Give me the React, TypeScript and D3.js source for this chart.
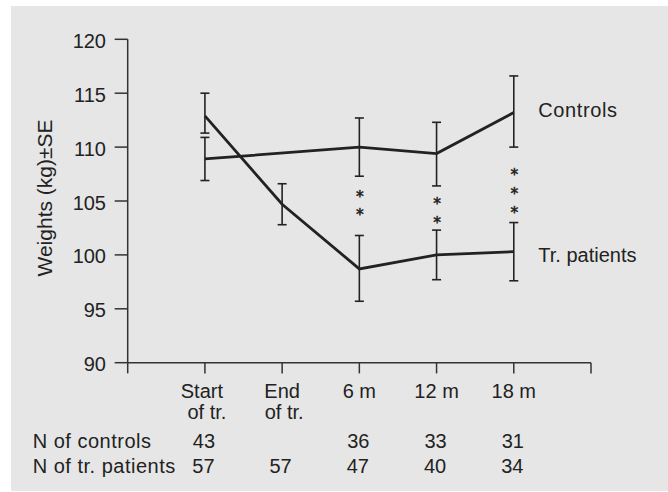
import React from "react";
import * as d3 from "d3";

const categories: string[][] = [["Start", "of tr."], ["End", "of tr."], ["6 m"], ["12 m"], ["18 m"]];
const controlsMean: (number | null)[] = [108.9, null, 110.0, 109.4, 113.2];
const controlsHigh: (number | null)[] = [110.9, null, 112.7, 112.3, 116.6];
const controlsLow: (number | null)[] = [106.9, null, 107.3, 106.4, 110.0];
const patientsMean: number[] = [112.9, 104.7, 98.7, 100.0, 100.3];
const patientsHigh: number[] = [115.0, 106.6, 101.8, 102.3, 103.0];
const patientsLow: number[] = [111.3, 102.8, 95.7, 97.7, 97.6];
const significance: string[] = ["", "", "**", "**", "***"];
const significanceAt: (number | null)[] = [null, null, 104.9, 104.2, 106.0];
const rowLabels: string[] = ["N of controls", "N of tr. patients"];
const nControls: string[] = ["43", "", "36", "33", "31"];
const nPatients: string[] = ["57", "57", "47", "40", "34"];
const yTicks: number[] = [90, 95, 100, 105, 110, 115, 120];
const seriesNames: string[] = ["Controls", "Tr. patients"];
const yLabel = "Weights (kg)\u00B1SE";

const W = 668;
const H = 492;
const FONT = "'Liberation Sans', Arial, Helvetica, sans-serif";
const INK = "#222";

export default function App() {
  const y = d3.scaleLinear().domain([90, 120]).range([362.7, 39.3]);
  const x = d3.scaleLinear().domain([0, 6]).range([127.7, 591]);
  const axisY = y(90);
  const axisX = x(0);

  type P = { i: number; v: number };
  const line = d3
    .line<P>()
    .x((d) => x(d.i + 1))
    .y((d) => y(d.v));

  const ctrlPts: P[] = controlsMean
    .map((v, i) => ({ i, v: v as number }))
    .filter((d, i) => controlsMean[i] !== null);
  const patPts: P[] = patientsMean.map((v, i) => ({ i, v }));

  const bars: { i: number; lo: number; hi: number }[] = [];
  controlsMean.forEach((m, i) => {
    if (m !== null) bars.push({ i, lo: controlsLow[i] as number, hi: controlsHigh[i] as number });
  });
  patientsMean.forEach((m, i) => {
    bars.push({ i, lo: patientsLow[i], hi: patientsHigh[i] });
  });

  const cap = 4.5;
  const xTickVals = d3.range(0, 7);

  return (
    <svg
      width={W}
      height={H}
      style={{ position: "absolute", left: 0, top: 0 }}
      fontFamily={FONT}
    >
      <rect x={0} y={0} width={W} height={H} fill="#fff" />
      <rect x={11} y={6} width={W - 11} height={485} fill="#e6e6e6" />

      {/* Y axis */}
      <line x1={axisX} x2={axisX} y1={y(120)} y2={axisY} stroke="#333" strokeWidth={1.5} />
      {yTicks.map((t) => (
        <g key={t}>
          <line x1={axisX - 13} x2={axisX} y1={y(t)} y2={y(t)} stroke="#333" strokeWidth={1.5} />
          <text x={106} y={y(t) + 8.5} textAnchor="end" fontSize={20} fill={INK}>
            {t}
          </text>
        </g>
      ))}
      <text
        transform={`translate(52,198) rotate(-90)`}
        textAnchor="middle"
        fontSize={21}
        fill={INK}
      >
        {yLabel}
      </text>

      {/* X axis */}
      <line x1={axisX} x2={x(6)} y1={axisY} y2={axisY} stroke="#333" strokeWidth={1.5} />
      {xTickVals.map((t) => (
        <line key={t} x1={x(t)} x2={x(t)} y1={axisY} y2={axisY + 10.7} stroke="#333" strokeWidth={1.5} />
      ))}
      {categories.map((lines, i) => (
        <text key={i} textAnchor="middle" fontSize={20} fill={INK}>
          {lines.map((l, j) => (
            <tspan key={j} x={x(i + 1) + (j === 0 ? (lines.length > 1 && i === 0 ? -3 : 0) : 2)} y={axisY + 35.5 + j * 21}>
              {l}
            </tspan>
          ))}
        </text>
      ))}

      {/* Table */}
      {rowLabels.map((r, k) => (
        <text key={r} x={32.7} y={448.3 + k * 24.4} fontSize={20} fill={INK} letterSpacing={0.5}>
          {r}
        </text>
      ))}
      {nControls.map((n, i) => (
        <text key={"c" + i} x={x(i + 1) - 1} y={448.3} textAnchor="middle" fontSize={20} fill={INK}>
          {n}
        </text>
      ))}
      {nPatients.map((n, i) => (
        <text key={"p" + i} x={x(i + 1) - 1.5} y={472.7} textAnchor="middle" fontSize={20} fill={INK}>
          {n}
        </text>
      ))}

      {/* Error bars */}
      {bars.map((b, k) => {
        const cx = x(b.i + 1);
        return (
          <g key={k} stroke={INK} strokeWidth={1.6}>
            <line x1={cx} x2={cx} y1={y(b.lo)} y2={y(b.hi)} />
            <line x1={cx - cap} x2={cx + cap} y1={y(b.lo)} y2={y(b.lo)} />
            <line x1={cx - cap} x2={cx + cap} y1={y(b.hi)} y2={y(b.hi)} />
          </g>
        );
      })}

      {/* Lines */}
      <path d={line(ctrlPts) || ""} fill="none" stroke={INK} strokeWidth={2.8} strokeLinejoin="miter" />
      <path d={line(patPts) || ""} fill="none" stroke={INK} strokeWidth={2.8} strokeLinejoin="miter" />

      {/* Significance stars */}
      {significance.map((s, i) => {
        const at = significanceAt[i];
        if (!s || at === null) return null;
        const mid = y(at);
        const n = s.length;
        const gap = 18.6;
        return (
          <g key={"s" + i}>
            {s.split("").map((c, j) => (
              <text
                key={j}
                x={x(i + 1) + 0.5}
                y={mid + (j - (n - 1) / 2) * gap + 8.8}
                textAnchor="middle"
                fontSize={15.5}
                fontFamily="'DejaVu Sans', sans-serif"
                fill={INK}
                stroke={INK}
                strokeWidth={0.5}
              >
                {c}
              </text>
            ))}
          </g>
        );
      })}

      {/* Series labels */}
      <text x={x(5) + 24.5} y={y(controlsMean[4] as number) + 4} fontSize={20} fill={INK} letterSpacing={0.6}>
        {seriesNames[0]}
      </text>
      <text x={x(5) + 24.5} y={y(patientsMean[4]) + 10.4} fontSize={20} fill={INK}>
        {seriesNames[1]}
      </text>
    </svg>
  );
}
